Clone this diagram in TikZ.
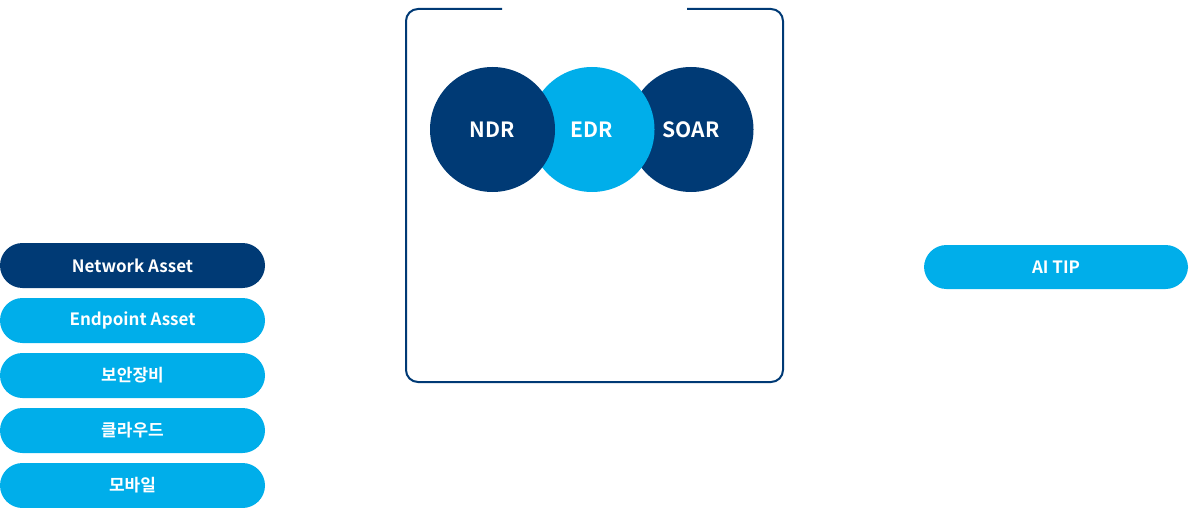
\documentclass[tikz,border=0pt]{standalone}
\usepackage{fontspec}
\setmainfont{Noto Sans CJK KR}[BoldFont={* Bold}]
\definecolor{navy}{HTML}{003A75}
\definecolor{sky}{HTML}{00AEEA}
\begin{document}
\begin{tikzpicture}[x=1pt,y=-1pt,
  pill/.style={rectangle, rounded corners=22.5pt, minimum width=265pt, minimum height=45pt, inner sep=0pt, text=white, font=\fontsize{17}{19}\selectfont\bfseries},
  circ/.style={circle, minimum size=125pt, inner sep=0pt, text=white, font=\fontsize{21}{23}\selectfont\bfseries}]
\useasboundingbox (0,0) rectangle (1189,508);
% frame with gap
\draw[navy, line width=2pt, rounded corners=12pt] (502,9) -- (406,9) -- (406,382) -- (783,382) -- (783,9) -- (687,9);
% circles
\node[circ, fill=navy] (soar) at (691,129.5) {SOAR};
\node[circ, fill=sky] (edr) at (592,129.5) {EDR};
\node[circ, fill=navy] (ndr) at (492.5,129.5) {NDR};
% left pills
\node[pill, fill=navy] (net) at (132.5,265.5) {Network Asset};
\node[pill, fill=sky] (end) at (132.5,320.5) {Endpoint Asset};
\node[pill, fill=sky] (sec) at (132.5,375.5) {보안장비};
\node[pill, fill=sky] (cloud) at (132.5,430.5) {클라우드};
\node[pill, fill=sky] (mob) at (132.5,485.5) {모바일};
% right pill
\node[pill, fill=sky, minimum width=264pt, minimum height=44pt] (tip) at (1056,267) {AI TIP};
\end{tikzpicture}
\end{document}
